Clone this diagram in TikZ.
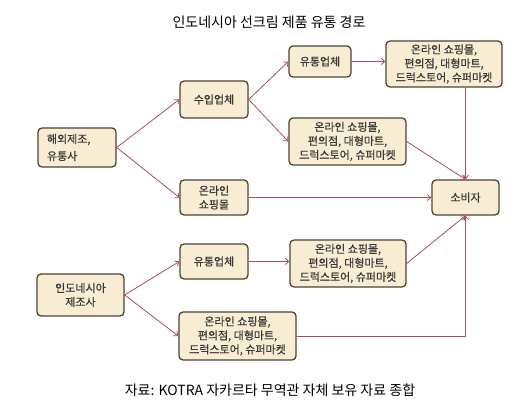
\documentclass[tikz,border=0pt]{standalone}
\usepackage{fontspec}
\setmainfont{Noto Sans CJK KR}
\newfontfamily\boxfont[FakeBold=0.6]{Noto Sans CJK KR}
\usetikzlibrary{arrows.meta}
\definecolor{boxfill}{HTML}{F8EDD3}
\definecolor{boxline}{HTML}{4A4536}
\definecolor{conn}{HTML}{A3515B}
\definecolor{txt}{HTML}{3A3A3A}
\tikzset{
  box/.style={draw=boxline, fill=boxfill, line width=1.3pt, rounded corners=4pt,
    inner sep=0pt, align=center, text=txt, font=\boxfont\fontsize{11}{14}\selectfont},
  conarrow/.style={draw=conn, line width=0.8pt, -{Straight Barb[length=3.5pt,width=6pt]}},
}
\begin{document}
\begin{tikzpicture}[x=1pt,y=-1pt]
\useasboundingbox (0,0) rectangle (528,414);
\fill[white] (0,0) rectangle (528,414);
\node[font=\fontsize{14}{16}\selectfont, text=black] (title) at (269,22) {인도네시아 선크림 제품 유통 경로};
\node[font=\fontsize{14}{16}\selectfont, text=black] (src) at (270,390) {자료: KOTRA 자카르타 무역관 자체 보유 자료 종합};

\node[box, minimum width=78, minimum height=39, align=left, font=\boxfont\fontsize{11}{17}\selectfont] (hw) at (77,147.5) {해외제조,\\유통사\hspace*{2.7em}};
\node[box, minimum width=68, minimum height=37] (su) at (214,99.5) {수입업체};
\node[box, minimum width=62, minimum height=31] (yt1) at (320,61.5) {유통업체};
\node[box, minimum width=116, minimum height=46] (tr) at (444,64) {온라인 쇼핑몰,\\편의점, 대형마트,\\드럭스토어, 슈퍼마켓};
\node[box, minimum width=117, minimum height=47] (mid) at (347.5,141.5) {온라인 쇼핑몰,\\편의점, 대형마트,\\드럭스토어, 슈퍼마켓};
\node[box, minimum width=68, minimum height=35] (os) at (214,197.5) {온라인\\쇼핑몰};
\node[box, minimum width=67, minimum height=35] (cs) at (465.5,197.5) {소비자};
\node[box, minimum width=68, minimum height=35] (yt2) at (214,261.5) {유통업체};
\node[box, minimum width=116, minimum height=47] (lm) at (348,263.5) {온라인 쇼핑몰,\\편의점, 대형마트,\\드럭스토어, 슈퍼마켓};
\node[box, minimum width=87, minimum height=42] (id) at (80.5,295) {인도네시아\\제조사};
\node[box, minimum width=117, minimum height=48] (bt) at (237.5,336) {온라인 쇼핑몰,\\편의점, 대형마트,\\드럭스토어, 슈퍼마켓};

\draw[conarrow] (hw.east) -- (su.west);
\draw[conarrow] (hw.east) -- (os.west);
\draw[conarrow] (su.east) -- (yt1.west);
\draw[conarrow] (su.east) -- (mid.west);
\draw[conarrow] (yt1.east) -- (tr.west |- yt1.east);
\draw[conarrow] (cs.north |- tr.south) -- (cs.north);
\draw[conarrow] (mid.east) -- (cs.north);
\draw[conarrow] (os.east) -- (cs.west);
\draw[conarrow] (lm.east) -- (cs.south);
\draw[conarrow] (bt.east) -- (cs.south |- bt.east) -- (cs.south);
\draw[conarrow] (id.east) -- (yt2.west);
\draw[conarrow] (id.east) -- (bt.west);
\draw[conarrow] (yt2.east) -- (lm.west |- yt2.east);
\end{tikzpicture}
\end{document}
